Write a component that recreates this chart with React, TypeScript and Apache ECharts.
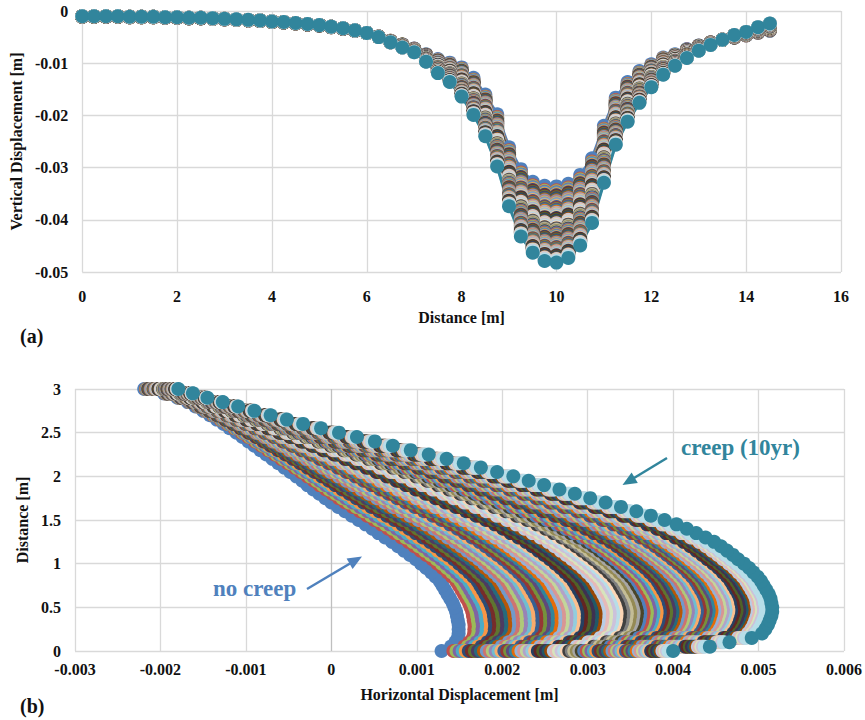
import { useEffect, useRef } from "react";
import * as echarts from "echarts";

// ---------- Panel (a): vertical displacement along the surface ----------
const distanceA = [
  0, 0.25, 0.5, 0.75, 1, 1.25, 1.5, 1.75, 2, 2.25, 2.5, 2.75, 3, 3.25, 3.5, 3.75, 4, 4.25, 4.5, 4.75,
  5, 5.25, 5.5, 5.75, 6, 6.25, 6.5, 6.75, 7, 7.25, 7.5, 7.75, 8, 8.25, 8.5, 8.75, 9, 9.25, 9.5, 9.75,
  10, 10.25, 10.5, 10.75, 11, 11.25, 11.5, 11.75, 12, 12.25, 12.5, 12.75, 13, 13.25, 13.5, 13.75, 14, 14.25, 14.5,
];
// first stage (no creep)
const vertFirst = [
  -0.0011, -0.0011, -0.0011, -0.0011, -0.0012, -0.0012, -0.0012, -0.0013, -0.0013, -0.0014, -0.0014, -0.0015,
  -0.0016, -0.0017, -0.0018, -0.0019, -0.0021, -0.0022, -0.0024, -0.0026, -0.0028, -0.0031, -0.0034, -0.0038,
  -0.0042, -0.0049, -0.0057, -0.0064, -0.0072, -0.0083, -0.0092, -0.0099, -0.0108, -0.0128, -0.016, -0.0198,
  -0.0261, -0.0303, -0.0327, -0.0335, -0.0336, -0.0331, -0.0314, -0.0282, -0.022, -0.0166, -0.0136, -0.0115,
  -0.0102, -0.0089, -0.0083, -0.0073, -0.0066, -0.006, -0.0055, -0.0051, -0.0047, -0.0042, -0.0038,
];
// last stage (creep 10 yr)
const vertLast = [
  -0.001, -0.001, -0.001, -0.001, -0.0011, -0.0011, -0.0011, -0.0012, -0.0012, -0.0013, -0.0013, -0.0014,
  -0.0015, -0.0016, -0.0017, -0.0018, -0.002, -0.0021, -0.0023, -0.0025, -0.0027, -0.003, -0.0033, -0.0037,
  -0.0042, -0.005, -0.006, -0.007, -0.0079, -0.0097, -0.0119, -0.0136, -0.0164, -0.0199, -0.024, -0.0298,
  -0.0374, -0.0432, -0.0463, -0.0479, -0.0482, -0.0473, -0.0449, -0.0406, -0.0329, -0.0256, -0.0212, -0.0176,
  -0.0146, -0.0122, -0.0105, -0.009, -0.0076, -0.0065, -0.0055, -0.0046, -0.004, -0.0031, -0.0024,
];

// ---------- Panel (b): horizontal displacement with depth ----------
const depthB = [
  0, 0.05, 0.1, 0.15, 0.2, 0.25, 0.3, 0.35, 0.4, 0.45, 0.5, 0.55, 0.6, 0.65, 0.7, 0.75, 0.8, 0.85, 0.9, 0.95,
  1, 1.05, 1.1, 1.15, 1.2, 1.25, 1.3, 1.35, 1.4, 1.45, 1.5, 1.55, 1.6, 1.65, 1.7, 1.75, 1.8, 1.85, 1.9, 1.95,
  2, 2.05, 2.1, 2.15, 2.2, 2.25, 2.3, 2.35, 2.4, 2.45, 2.5, 2.55, 2.6, 2.65, 2.7, 2.75, 2.8, 2.85, 2.9, 2.95, 3,
];
const horizFirst = [
  0.00129, 0.0014, 0.00145, 0.00148, 0.00149, 0.00149, 0.00149, 0.00148, 0.00147, 0.00146, 0.00144, 0.00142,
  0.00139, 0.00136, 0.00133, 0.0013, 0.00127, 0.00122, 0.00117, 0.00111, 0.00105, 0.00099, 0.00092, 0.00085,
  0.00078, 0.00071, 0.00063, 0.00055, 0.00048, 0.0004, 0.00032, 0.00024, 0.00016, 0.00008, 0, -0.00007,
  -0.00014, -0.00021, -0.00028, -0.00034, -0.00041, -0.00048, -0.00055, -0.00062, -0.00069, -0.00076, -0.00083,
  -0.0009, -0.00097, -0.00104, -0.00111, -0.00119, -0.00126, -0.00134, -0.00142, -0.0015, -0.00159, -0.00168,
  -0.0018, -0.00196, -0.00219,
];
const horizLast = [
  0.004, 0.00443, 0.00466, 0.00492, 0.00504, 0.00508, 0.00511, 0.00513, 0.00515, 0.00516, 0.00516, 0.00515,
  0.00514, 0.00512, 0.00509, 0.00506, 0.00503, 0.00499, 0.00494, 0.00489, 0.00483, 0.00476, 0.0047, 0.00463,
  0.00456, 0.00448, 0.00438, 0.00427, 0.00416, 0.00404, 0.0039, 0.00374, 0.00357, 0.00339, 0.00321, 0.00303,
  0.00285, 0.00267, 0.00249, 0.00231, 0.00213, 0.00194, 0.00175, 0.00155, 0.00135, 0.00114, 0.00093, 0.00072,
  0.00051, 0.0003, 0.00009, -0.00012, -0.00033, -0.00052, -0.00071, -0.0009, -0.00109, -0.00127, -0.00145,
  -0.00162, -0.00179,
];

// horizontal displacement at 0.5 m depth read for each creep stage (first = no creep, last = 10 yr)
const stageBulge = [
  0.00144, 0.00163, 0.00168, 0.00173, 0.001779, 0.001829, 0.001878, 0.001927, 0.001975, 0.002024, 0.002072,
  0.00212, 0.002167, 0.002215, 0.002262, 0.002309, 0.002356, 0.002402, 0.002449, 0.002495, 0.002541, 0.002586,
  0.002632, 0.002677, 0.002722, 0.002767, 0.002811, 0.002855, 0.002899, 0.002943, 0.002987, 0.00303, 0.003073,
  0.003116, 0.003159, 0.003201, 0.003243, 0.003285, 0.003327, 0.003368, 0.00341, 0.003451, 0.003491, 0.003532,
  0.003572, 0.003612, 0.003652, 0.003692, 0.003731, 0.003771, 0.00381, 0.003848, 0.003887, 0.003925, 0.003963,
  0.004001, 0.004038, 0.004076, 0.004113, 0.00415, 0.004186, 0.004223, 0.004259, 0.004295, 0.004331, 0.004366,
  0.004402, 0.004437, 0.004471, 0.004506, 0.00454, 0.004575, 0.004608, 0.004642, 0.004676, 0.004709, 0.004742,
  0.004774, 0.004807, 0.004839, 0.004871, 0.004903, 0.004935, 0.004962, 0.004988, 0.005013, 0.005038, 0.005062,
  0.005085, 0.00516,
];

const palette = [
  "#4F81BD", "#C0504D", "#9BBB59", "#8064A2", "#4BACC6", "#F79646",
  "#2C4D75", "#772C2A", "#5F7530", "#4D3B62", "#276A7C", "#B65708",
  "#729ACA", "#CD7371", "#AFC97A", "#9983B5", "#6FBDD1", "#F9AB6B",
  "#376092", "#953735", "#76923C", "#5F497A", "#31859C", "#E46C0A",
  "#95B3D7", "#D99694", "#C3D69B", "#B3A2C7", "#93CDDD", "#FAC090",
  "#254061", "#632523", "#4F6228", "#3F3151", "#215968", "#974806",
  "#B9CDE5", "#E6B9B8", "#D7E4BD", "#CCC1DA", "#B7DEE8", "#FCD5B5",
  "#404040", "#7F7F7F", "#C4BD97", "#948A54", "#A6A6A6", "#4A452A",
];
const lastColor = "#31859C";
const firstColor = "#4F81BD";

const FONT = "Liberation Serif";
const GRID = "#d9d9d9";

export default function App() {
  const ref = useRef<HTMLDivElement>(null);
  useEffect(() => {
    const chart = echarts.init(ref.current!, null, { renderer: "svg" });
    const b0 = stageBulge[0];
    const b1 = stageBulge[stageBulge.length - 1];
    const n = stageBulge.length;
    const seriesA: any[] = [];
    const seriesB: any[] = [];
    stageBulge.forEach((b, i) => {
      const f = (b - b0) / (b1 - b0);
      const color = i === n - 1 ? lastColor : i === 0 ? firstColor : palette[i % palette.length];
      const common = {
        type: "line",
        symbol: "circle",
        symbolSize: 14,
        showSymbol: true,
        showAllSymbol: true,
        clip: false,
        silent: true,
        animation: false,
        color,
        itemStyle: { color },
        lineStyle: { color, width: 3 },
        emphasis: { disabled: true },
      };
      seriesA.push({
        ...common,
        xAxisIndex: 0,
        yAxisIndex: 0,
        data: distanceA.map((x, k) => [x, vertFirst[k] + f * (vertLast[k] - vertFirst[k])]),
      });
      seriesB.push({
        ...common,
        xAxisIndex: 1,
        yAxisIndex: 1,
        data: depthB.map((d, k) => [horizFirst[k] + f * (horizLast[k] - horizFirst[k]), d]),
      });
    });

    const fmt = (v: number) => String(Math.round(v * 100000) / 100000);
    const labelStyle = { fontFamily: FONT, fontWeight: "bold", fontSize: 16, color: "#111" };
    const nameStyle = { fontFamily: FONT, fontWeight: "bold", fontSize: 16, color: "#111" };

    const option: any = {
      animation: false,
      backgroundColor: "#fff",
      textStyle: { fontFamily: FONT },
      grid: [
        { left: 77, top: 11, width: 764, height: 261 },
        { left: 75, top: 389, width: 769, height: 262 },
      ],
      xAxis: [
        {
          gridIndex: 0, type: "value", min: 0, max: 16, interval: 2,
          axisLine: { show: false, onZero: false }, axisTick: { show: false },
          splitLine: { show: true, lineStyle: { color: GRID, width: 1.3 } },
          axisLabel: { ...labelStyle, margin: 16, formatter: fmt },
          name: "Distance [m]", nameLocation: "middle", nameGap: 37, nameTextStyle: nameStyle,
        },
        {
          gridIndex: 1, type: "value", min: -0.003, max: 0.006, interval: 0.001,
          axisLine: { show: false, onZero: false }, axisTick: { show: false },
          splitLine: {
            show: true,
            lineStyle: { color: [GRID, GRID, GRID, "#bfbfbf", GRID, GRID, GRID, GRID, GRID, GRID], width: 1.3 },
          },
          axisLabel: { ...labelStyle, margin: 10, formatter: fmt },
          name: "Horizontal Displacement [m]", nameLocation: "middle", nameGap: 35, nameTextStyle: nameStyle,
        },
      ],
      yAxis: [
        {
          gridIndex: 0, type: "value", min: -0.05, max: 0, interval: 0.01,
          axisLine: { show: false, onZero: false }, axisTick: { show: false },
          splitLine: { show: true, lineStyle: { color: GRID, width: 1.3 } },
          axisLabel: { ...labelStyle, margin: 14, formatter: fmt },
          name: "Vertical Displacement [m]", nameLocation: "middle", nameGap: 55, nameRotate: 90,
          nameTextStyle: nameStyle,
        },
        {
          gridIndex: 1, type: "value", min: 0, max: 3, interval: 0.5,
          axisLine: { show: false, onZero: false }, axisTick: { show: false },
          splitLine: { show: true, lineStyle: { color: GRID, width: 1.3 } },
          axisLabel: { ...labelStyle, margin: 14, formatter: fmt },
          name: "Distance [m]", nameLocation: "middle", nameGap: 43, nameRotate: 90,
          nameTextStyle: nameStyle,
        },
      ],
      series: [...seriesA, ...seriesB],
      graphic: [
        {
          type: "text", x: 20, y: 336, z: 100,
          style: { text: "(a)", fill: "#111", font: `bold 20px "${FONT}"`, verticalAlign: "middle" },
        },
        {
          type: "text", x: 20, y: 706, z: 100,
          style: { text: "(b)", fill: "#111", font: `bold 20px "${FONT}"`, verticalAlign: "middle" },
        },
        {
          type: "text", x: 213, y: 588, z: 100,
          style: { text: "no creep", fill: "#4F81BD", font: `bold 23px "${FONT}"`, verticalAlign: "middle" },
        },
        {
          type: "text", x: 681, y: 447, z: 100,
          style: { text: "creep (10yr)", fill: lastColor, font: `bold 23px "${FONT}"`, verticalAlign: "middle" },
        },
        {
          type: "line", z: 100,
          shape: { x1: 307, y1: 589, x2: 350, y2: 563.5 },
          style: { stroke: "#4F81BD", lineWidth: 2.5 },
        },
        {
          type: "polygon", z: 100,
          shape: { points: [[362, 556.5], [352.6, 568.9], [346.6, 558.5]] },
          style: { fill: "#4F81BD" },
        },
        {
          type: "line", z: 100,
          shape: { x1: 667, y1: 458, x2: 634, y2: 478 },
          style: { stroke: lastColor, lineWidth: 2.5 },
        },
        {
          type: "polygon", z: 100,
          shape: { points: [[622.5, 485], [637.8, 482.9], [631.6, 472.6]] },
          style: { fill: lastColor },
        },
      ],
    };
    chart.setOption(option);
    return () => chart.dispose();
  }, []);
  return (
    <div
      ref={ref}
      style={{ position: "absolute", left: 0, top: 0, width: 865, height: 720, background: "#fff" }}
    />
  );
}
